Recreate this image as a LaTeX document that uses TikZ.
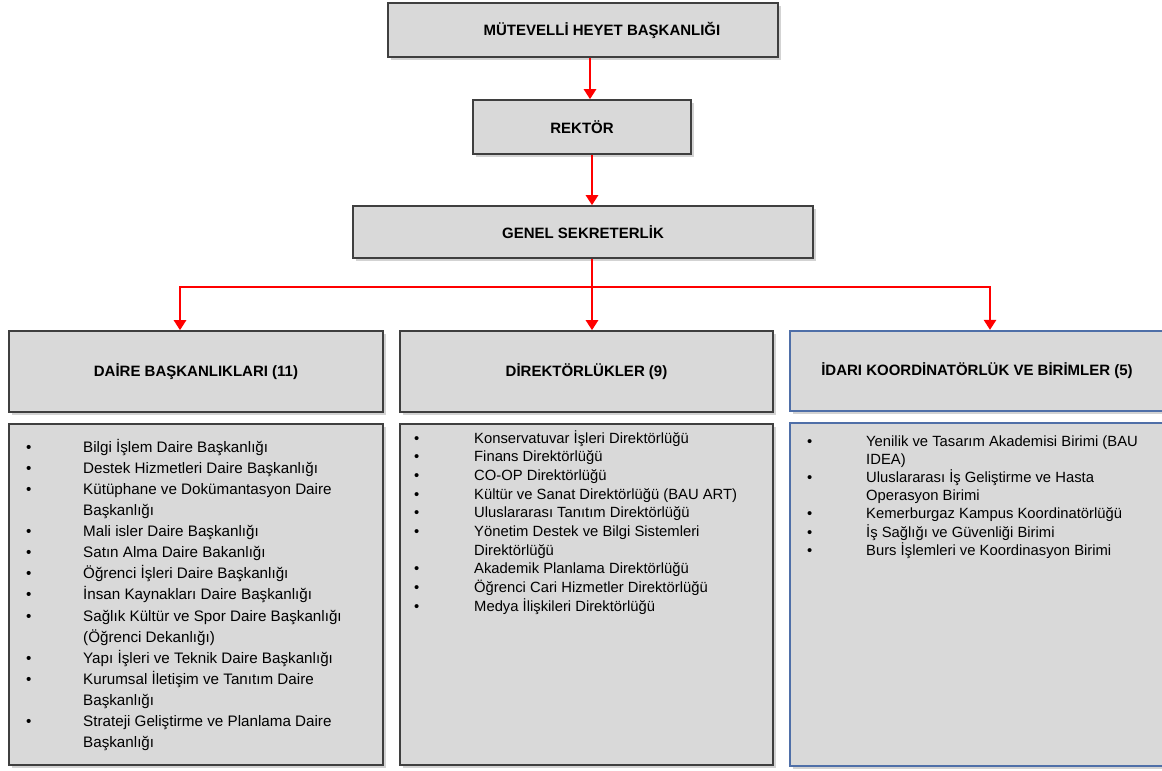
\documentclass[tikz,border=0pt]{standalone}
\usepackage{fontspec}
\setmainfont{Liberation Sans}
\usetikzlibrary{shadows,arrows.meta}
\definecolor{boxfill}{HTML}{D9D9D9}
\definecolor{boxline}{HTML}{3F3F3F}
\definecolor{blueline}{HTML}{4F6FA8}
\definecolor{arrred}{HTML}{FF0000}
\begin{document}
\begin{tikzpicture}[x=1pt,y=-1pt,
  box/.style={draw=boxline, line width=1.6pt, fill=boxfill, inner sep=0pt,
    drop shadow={shadow xshift=3pt, shadow yshift=-3pt, opacity=0.35}},
  bluebox/.style={box, draw=blueline, line width=2.2pt},
  head/.style={font=\fontsize{15}{17}\selectfont\bfseries},
  redline/.style={draw=arrred, line width=2.5pt},
  arr/.style={redline, -{Triangle[width=12pt,length=10pt]}},
  listtext/.style={inner sep=0pt, anchor=base west}
]
\useasboundingbox (0,0) rectangle (1162,771);
% top chain
\node[box, head, minimum width=390pt, minimum height=54pt] (mut) at (583,30) {\hspace*{38pt}MÜTEVELLİ HEYET BAŞKANLIĞI};
\node[box, head, minimum width=218pt, minimum height=54pt] (rek) at (582,127) {REKTÖR};
\node[box, head, minimum width=460pt, minimum height=52pt] (gen) at (583,232) {GENEL SEKRETERLİK};
% headers
\node[box, head, minimum width=374pt, minimum height=81pt] (dai) at (196,371.5) {DAİRE BAŞKANLIKLARI (11)};
\node[box, head, minimum width=373pt, minimum height=81pt] (dir) at (586.5,371.5) {DİREKTÖRLÜKLER (9)};
\node[bluebox, minimum width=378pt, minimum height=80pt] (idr) at (979,371) {};
\node[head, inner sep=0pt] (idrt) at (977,371) {İDARI KOORDİNATÖRLÜK VE BİRİMLER (5)};
% list boxes
\node[box, minimum width=374pt, minimum height=341pt] (dail) at (196,594.5) {};
\node[box, minimum width=373pt, minimum height=341pt] (dirl) at (586.5,594.5) {};
\node[bluebox, minimum width=378pt, minimum height=343pt] (idrl) at (979,594.5) {};
% list texts
\node[listtext] (dailt) at (26,452) {\fontsize{15.2}{21.14}\selectfont
\begin{tabular}[t]{@{}p{57pt}@{}l@{}}
• & Bilgi İşlem Daire Başkanlığı\\
• & Destek Hizmetleri Daire Başkanlığı\\
• & Kütüphane ve Dokümantasyon Daire\\
  & Başkanlığı\\
• & Mali isler Daire Başkanlığı\\
• & Satın Alma Daire Bakanlığı\\
• & Öğrenci İşleri Daire Başkanlığı\\
• & İnsan Kaynakları Daire Başkanlığı\\
• & Sağlık Kültür ve Spor Daire Başkanlığı\\
  & (Öğrenci Dekanlığı)\\
• & Yapı İşleri ve Teknik Daire Başkanlığı\\
• & Kurumsal İletişim ve Tanıtım Daire\\
  & Başkanlığı\\
• & Strateji Geliştirme ve Planlama Daire\\
  & Başkanlığı
\end{tabular}};
\node[listtext] (dirlt) at (414,443) {\fontsize{14.8}{18.67}\selectfont
\begin{tabular}[t]{@{}p{60pt}@{}l@{}}
• & Konservatuvar İşleri Direktörlüğü\\
• & Finans Direktörlüğü\\
• & CO-OP Direktörlüğü\\
• & Kültür ve Sanat Direktörlüğü (BAU ART)\\
• & Uluslararası Tanıtım Direktörlüğü\\
• & Yönetim Destek ve Bilgi Sistemleri\\
  & Direktörlüğü\\
• & Akademik Planlama Direktörlüğü\\
• & Öğrenci Cari Hizmetler Direktörlüğü\\
• & Medya İlişkileri Direktörlüğü
\end{tabular}};
\node[listtext] (idrlt) at (807,446) {\fontsize{14.8}{18.17}\selectfont
\begin{tabular}[t]{@{}p{59pt}@{}l@{}}
• & Yenilik ve Tasarım Akademisi Birimi (BAU\\
  & IDEA)\\
• & Uluslararası İş Geliştirme ve Hasta\\
  & Operasyon Birimi\\
• & Kemerburgaz Kampus Koordinatörlüğü\\
• & İş Sağlığı ve Güvenliği Birimi\\
• & Burs İşlemleri ve Koordinasyon Birimi
\end{tabular}};
% connectors
\draw[arr] ([xshift=7pt]mut.south) -- ([xshift=7pt]mut.south |- rek.north);
\draw[arr] ([xshift=10pt]rek.south) -- ([xshift=10pt]rek.south |- gen.north);
\coordinate (bus) at (592,287);
\draw[redline] (gen.south -| bus) -- (bus);
\draw[arr] (bus) -| ([xshift=-16pt]dai.north);
\draw[arr] (bus) -| ([xshift=11pt]idr.north);
\draw[arr] (bus) -- (dir.north -| bus);
\end{tikzpicture}
\end{document}
